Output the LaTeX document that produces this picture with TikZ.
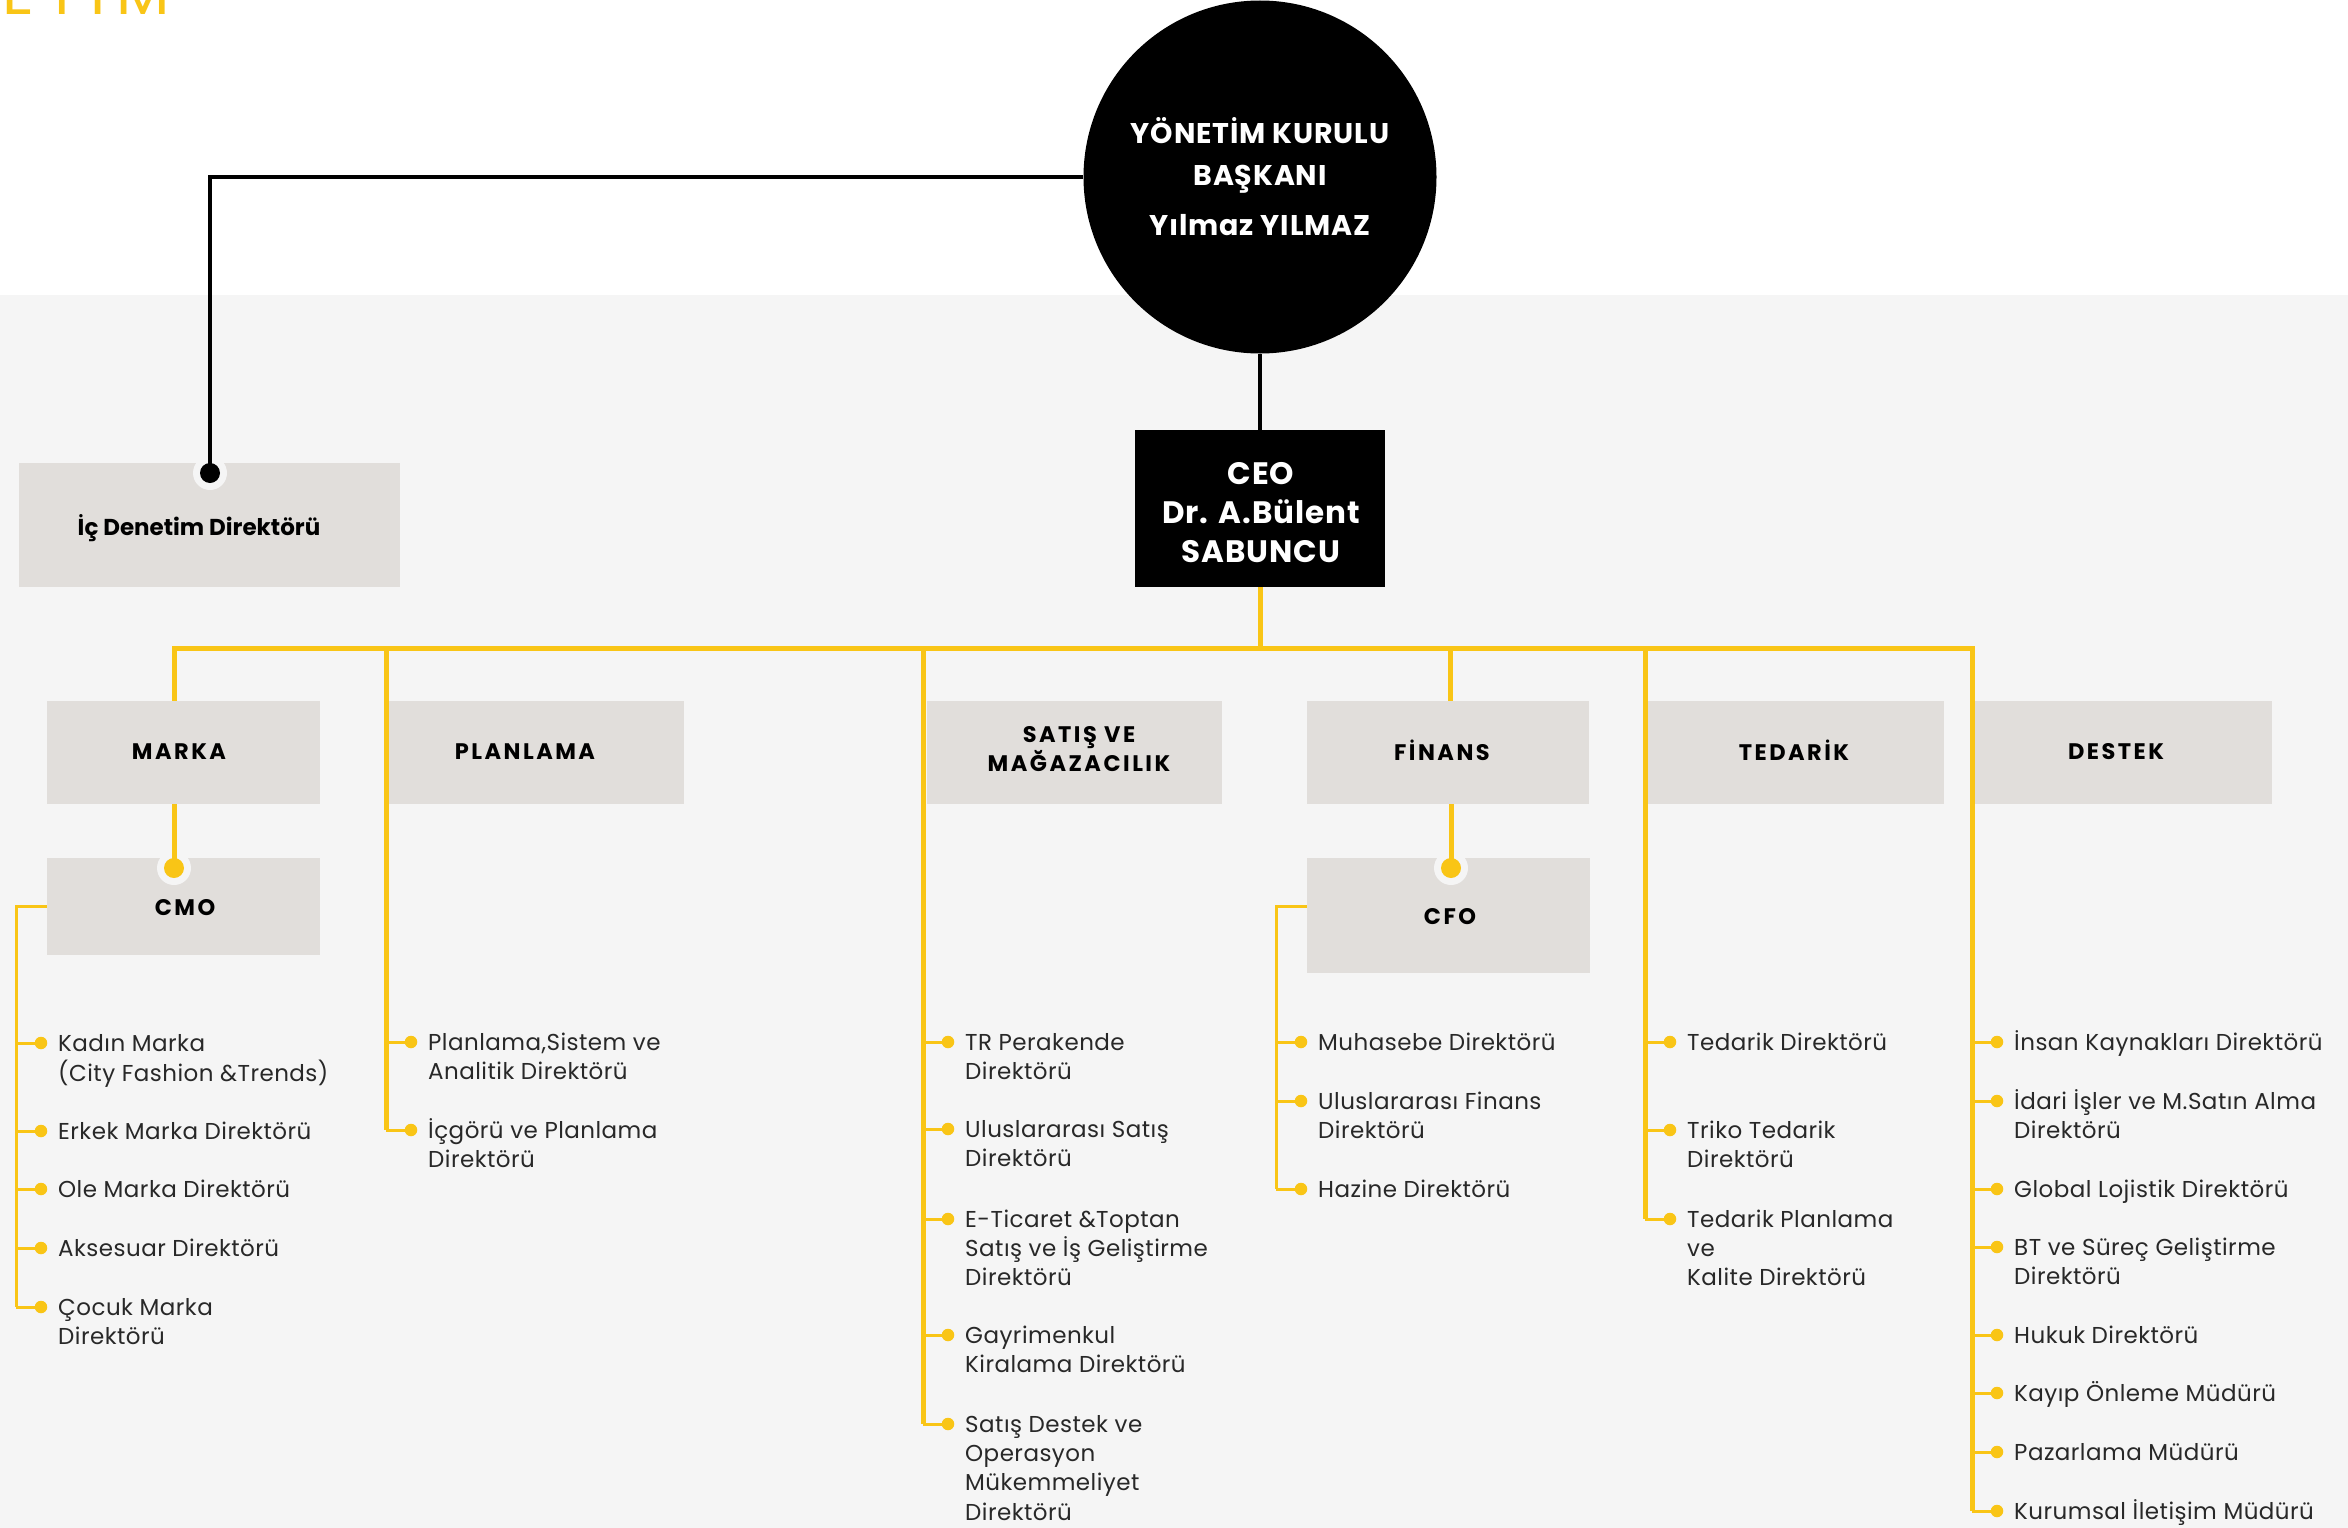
\documentclass[tikz,border=0pt]{standalone}
\usepackage{fontspec}
\setmainfont{Poppins}
\usetikzlibrary{calc}
\definecolor{ylw}{RGB}{249,197,22}
\definecolor{boxg}{RGB}{225,222,219}
\definecolor{bgg}{RGB}{245,245,245}
\definecolor{txtc}{RGB}{40,40,40}
\tikzset{
 orgbox/.style={fill=boxg, inner sep=0pt, rectangle},
 hlabel/.style={font=\fontsize{22.5}{29}\bfseries\addfontfeature{LetterSpace=11}, text=black, align=center, inner sep=0pt},
 icdlabel/.style={font=\fontsize{23}{28}\bfseries, text=black, inner sep=0pt},
 itemtext/.style={anchor=base west, inner sep=0pt, text=txtc, font=\fontsize{23}{29.4}\selectfont\addfontfeature{LetterSpace=2}},
 ydot/.style={circle, fill=ylw, inner sep=0pt, minimum size=12.5pt},
 halo/.style={circle, fill=bgg, inner sep=0pt, minimum size=34pt},
 bigdot/.style={circle, inner sep=0pt, minimum size=20pt},
 mainy/.style={draw=ylw, line width=5pt},
 thiny/.style={draw=ylw, line width=3pt},
 blk/.style={draw=black, line width=4.5pt},
}
\newcommand{\orgentry}[4]{%
  \coordinate (#1-c) at (#2,#3);
  \node[ydot] (#1-d) at ($(#1-c)+(25,0)$) {};
  \node[itemtext] (#1) at ($(#1-c)+(42,8)$) {\begin{tabular}[t]{@{}l@{}}#4\end{tabular}};
  \draw[thiny] (#1-c) -- (#1-d.center);
}
\begin{document}
\begin{tikzpicture}[x=1pt,y=-1pt]
\useasboundingbox (0,0) rectangle (2348,1528);
\fill[white] (0,0) rectangle (2348,295);
\fill[bgg] (0,295) rectangle (2348,1528);
\begin{scope}
\clip (0,0) rectangle (2348,1528);
\node[anchor=base east, inner sep=0pt, text=ylw, font=\fontsize{62}{62}\selectfont\addfontfeature{LetterSpace=18}] (title) at (170,15) {YÖNETİM};
\end{scope}

% chairman and CEO
\node[circle, fill=black, minimum size=353pt, inner sep=0pt, text=white, align=center,
      font=\fontsize{28.5}{42}\bfseries\addfontfeature{LetterSpace=3}] (ykb) at (1260,177) {YÖNETİM KURULU\\BAŞKANI\\[8pt]Yılmaz YILMAZ};
\node[fill=black, minimum width=250pt, minimum height=157pt, inner sep=0pt] (ceo) at (1260,508.5) {};
\node[text=white, align=center, inner sep=0pt,
      font=\fontsize{31}{39}\bfseries\addfontfeature{LetterSpace=3}] (ceo-t) at (1261,513) {CEO\\Dr. A.Bülent\\SABUNCU};

% internal audit
\node[orgbox, minimum width=381pt, minimum height=124pt] (icd) at (209.5,525) {};
\node[icdlabel] (icd-t) at (199,528) {İç Denetim Direktörü};
\node[halo] (icd-h) at (210,473) {};
\draw[blk] (ykb.west) -- (ykb.west -| icd-h) -- (icd-h.center);
\node[bigdot, fill=black] (icd-dot) at (210,473) {};
\draw[blk] (ykb.south) -- (ceo.north);

% department boxes
\node[orgbox, minimum width=273pt, minimum height=103pt] (marka) at (183.5,752.5) {};
\node[hlabel] (marka-t) at (179,751.5) {MARKA};
\node[orgbox, minimum width=295pt, minimum height=103pt] (planlama) at (536.5,752.5) {};
\node[hlabel] (planlama-t) at (525,751.5) {PLANLAMA};
\node[orgbox, minimum width=295pt, minimum height=103pt] (satis) at (1074.5,752.5) {};
\node[hlabel] (satis-t) at (1079,749) {SATIŞ VE\\MAĞAZACILIK};
\node[orgbox, minimum width=282pt, minimum height=103pt] (finans) at (1448,752.5) {};
\node[hlabel] (finans-t) at (1442,750) {FİNANS};
\node[orgbox, minimum width=296pt, minimum height=103pt] (tedarik) at (1796,752.5) {};
\node[hlabel] (tedarik-t) at (1794,750) {TEDARİK};
\node[orgbox, minimum width=297pt, minimum height=103pt] (destek) at (2123.5,752.5) {};
\node[hlabel] (destek-t) at (2116,751.5) {DESTEK};

\node[orgbox, minimum width=273pt, minimum height=97pt] (cmo) at (183.5,906.5) {};
\node[hlabel] (cmo-t) at (185,908) {CMO};
\node[orgbox, minimum width=283pt, minimum height=115pt] (cfo) at (1448.5,915.5) {};
\node[hlabel] (cfo-t) at (1450,917) {CFO};

% list entries
\orgentry{mk1}{16}{1043}{Kadın Marka\\(City Fashion \&Trends)}
\orgentry{mk2}{16}{1131}{Erkek Marka Direktörü}
\orgentry{mk3}{16}{1189}{Ole Marka Direktörü}
\orgentry{mk4}{16}{1248}{Aksesuar Direktörü}
\orgentry{mk5}{16}{1307}{Çocuk Marka\\Direktörü}

\orgentry{pl1}{386}{1042}{Planlama,Sistem ve\\Analitik Direktörü}
\orgentry{pl2}{386}{1130}{İçgörü ve Planlama\\Direktörü}

\orgentry{st1}{923}{1042}{TR Perakende\\Direktörü}
\orgentry{st2}{923}{1129}{Uluslararası Satış\\Direktörü}
\orgentry{st3}{923}{1219}{E-Ticaret \&Toptan\\Satış ve İş Geliştirme\\Direktörü}
\orgentry{st4}{923}{1335}{Gayrimenkul\\Kiralama Direktörü}
\orgentry{st5}{923}{1424}{Satış Destek ve\\Operasyon\\Mükemmeliyet\\Direktörü}

\orgentry{fn1}{1276}{1042}{Muhasebe Direktörü}
\orgentry{fn2}{1276}{1101}{Uluslararası Finans\\Direktörü}
\orgentry{fn3}{1276}{1189}{Hazine Direktörü}

\orgentry{td1}{1645}{1042}{Tedarik Direktörü}
\orgentry{td2}{1645}{1130}{Triko Tedarik\\Direktörü}
\orgentry{td3}{1645}{1219}{Tedarik Planlama\\ve\\Kalite Direktörü}

\orgentry{ds1}{1972}{1042}{İnsan Kaynakları Direktörü}
\orgentry{ds2}{1972}{1101}{İdari İşler ve M.Satın Alma\\Direktörü}
\orgentry{ds3}{1972}{1189}{Global Lojistik Direktörü}
\orgentry{ds4}{1972}{1247}{BT ve Süreç Geliştirme\\Direktörü}
\orgentry{ds5}{1972}{1335}{Hukuk Direktörü}
\orgentry{ds6}{1972}{1393}{Kayıp Önleme Müdürü}
\orgentry{ds7}{1972}{1452}{Pazarlama Müdürü}
\orgentry{ds8}{1972}{1511}{Kurumsal İletişim Müdürü}

% yellow trunk
\coordinate (hub) at (1260,648);
\coordinate (hL) at (174,648);
\coordinate (hR) at (1972,648);
\coordinate (pl-top) at (386,648);
\coordinate (st-top) at (923,648);
\coordinate (fn-top) at (1450,648);
\coordinate (td-top) at (1645,648);
\draw[mainy] (ceo.south) -- (hub);
\draw[mainy] (hL |- marka.north) -- (hL) -- (hR) -- (ds8-c);
\draw[mainy] (pl-top) -- (pl2-c);
\draw[mainy] (st-top) -- (st5-c);
\draw[mainy] (td-top) -- (td3-c);
\draw[mainy] (fn-top) -- (fn-top |- finans.north);

% CMO and CFO connectors
\node[halo] (cmo-h) at (174,868) {};
\node[halo] (cfo-h) at (1451,868) {};
\draw[mainy] (marka.south -| cmo-h) -- (cmo-h.center);
\draw[mainy] (finans.south -| cfo-h) -- (cfo-h.center);
\node[bigdot, fill=ylw] (cmo-dot) at (174,868) {};
\node[bigdot, fill=ylw] (cfo-dot) at (1451,868) {};
\draw[thiny] (cmo.west) -- (cmo.west -| mk5-c) -- (mk5-c);
\coordinate (cfo-out) at ($(cfo.north west)+(0,49)$);
\draw[thiny] (cfo-out) -- (cfo-out -| fn3-c) -- (fn3-c);
\end{tikzpicture}
\end{document}
